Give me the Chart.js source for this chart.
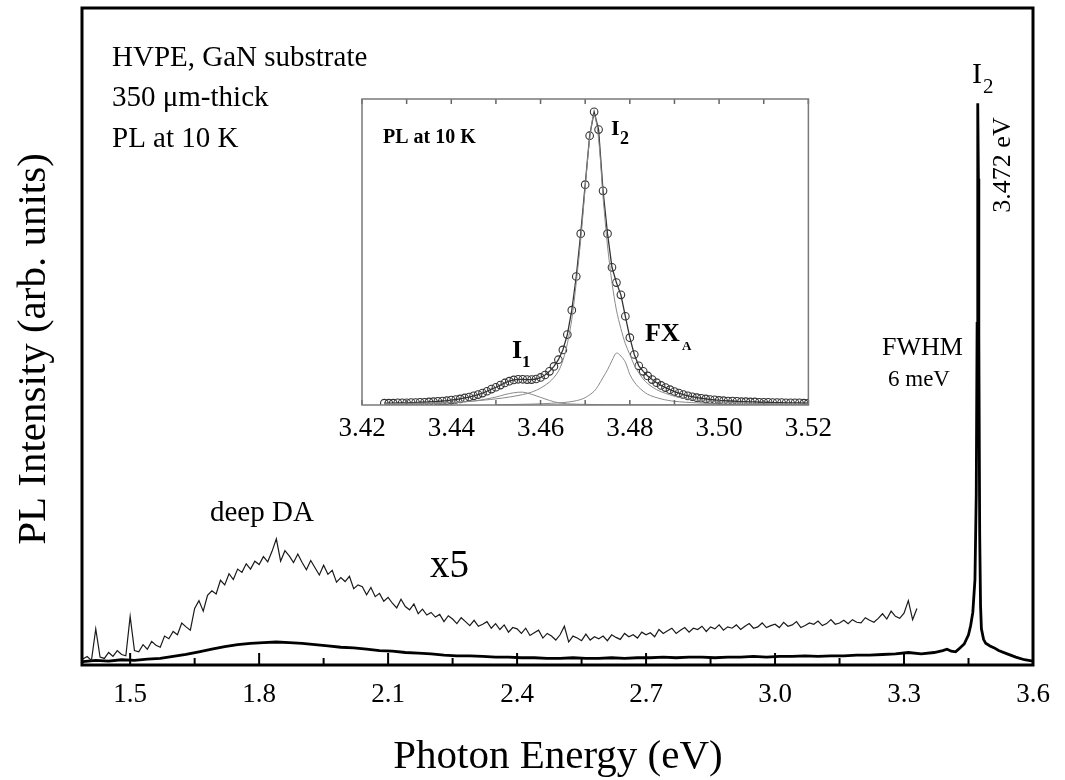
<!DOCTYPE html>
<html><head><meta charset="utf-8">
<script src="https://cdn.jsdelivr.net/npm/chart.js@4.4.1/dist/chart.umd.min.js"></script>
<style>
html,body{margin:0;padding:0;background:#fff;}
#wrap{position:relative;width:1065px;height:780px;background:#fff;}
#main{position:absolute;left:0;top:0;}
#inset{position:absolute;left:320px;top:90px;}
</style></head><body>
<div id="wrap">
<canvas id="main" width="1065" height="780"></canvas>
<canvas id="inset" width="520" height="360"></canvas>
</div>
<script>
// ---------- main spectrum (x1) ----------
const mainEnergy = [1.39,1.42,1.45,1.48,1.51,1.54,1.57,1.60,1.63,1.66,1.69,1.72,1.75,1.78,1.81,1.84,1.87,1.90,1.93,1.96,
  1.99,2.02,2.05,2.08,2.11,2.14,2.17,2.20,2.23,2.26,2.29,2.32,2.35,2.38,2.41,2.44,2.47,2.50,2.53,2.56,
  2.59,2.62,2.65,2.68,2.71,2.74,2.77,2.80,2.83,2.86,2.89,2.92,2.95,2.98,3.01,3.04,3.07,3.10,3.13,3.16,
  3.19,3.22,3.25,3.28,3.31,3.34,3.37,3.39,3.40,3.41,3.42,3.43,3.44,3.45,3.455,3.46,3.465,3.468,3.470,3.471,
  3.472,3.473,3.474,3.476,3.478,3.480,3.485,3.49,3.50,3.51,3.52,3.54,3.56,3.58,3.60];
const mainValues = [0.5,0.7,0.6,0.8,0.7,0.9,1.0,1.3,1.6,2.0,2.4,2.8,3.1,3.3,3.4,3.5,3.4,3.3,3.1,2.9,
  2.7,2.6,2.4,2.2,2.1,1.9,1.8,1.7,1.5,1.4,1.4,1.3,1.2,1.2,1.1,1.1,1.0,1.0,1.1,1.0,
  1.0,1.1,1.0,1.1,1.1,1.2,1.1,1.2,1.2,1.1,1.2,1.2,1.3,1.2,1.3,1.3,1.4,1.3,1.4,1.4,
  1.5,1.5,1.6,1.7,1.9,1.7,1.9,2.2,2.4,2.1,2.0,2.6,3.2,4.6,6.0,8.0,13,26,52,72,
  85.5,74,50,20,9,5.5,3.9,3.3,2.9,2.6,2.2,1.7,1.2,0.8,0.6];

// ---------- magnified spectrum (x5) ----------
const x5Energy = [1.39,
  1.40,1.41,1.42,1.43,1.44,1.45,1.46,1.47,1.48,1.49,
  1.50,1.51,1.52,1.53,1.54,1.55,1.56,1.57,1.58,1.59,
  1.60,1.61,1.62,1.63,1.64,1.65,1.66,1.67,1.68,1.69,
  1.70,1.71,1.72,1.73,1.74,1.75,1.76,1.77,1.78,1.79,
  1.80,1.81,1.82,1.83,1.84,1.85,1.86,1.87,1.88,1.89,
  1.90,1.91,1.92,1.93,1.94,1.95,1.96,1.97,1.98,1.99,
  2.00,2.01,2.02,2.03,2.04,2.05,2.06,2.07,2.08,2.09,
  2.10,2.11,2.12,2.13,2.14,2.15,2.16,2.17,2.18,2.19,
  2.20,2.21,2.22,2.23,2.24,2.25,2.26,2.27,2.28,2.29,
  2.30,2.31,2.32,2.33,2.34,2.35,2.36,2.37,2.38,2.39,
  2.40,2.41,2.42,2.43,2.44,2.45,2.46,2.47,2.48,2.49,
  2.50,2.51,2.52,2.53,2.54,2.55,2.56,2.57,2.58,2.59,
  2.60,2.61,2.62,2.63,2.64,2.65,2.66,2.67,2.68,2.69,
  2.70,2.71,2.72,2.73,2.74,2.75,2.76,2.77,2.78,2.79,
  2.80,2.81,2.82,2.83,2.84,2.85,2.86,2.87,2.88,2.89,
  2.90,2.91,2.92,2.93,2.94,2.95,2.96,2.97,2.98,2.99,
  3.00,3.01,3.02,3.03,3.04,3.05,3.06,3.07,3.08,3.09,
  3.10,3.11,3.12,3.13,3.14,3.15,3.16,3.17,3.18,3.19,
  3.20,3.21,3.22,3.23,3.24,3.25,3.26,3.27,3.28,3.29,
  3.30,3.31,3.32,3.33];
const x5Values = [0.9,
  1.3,0.7,5.5,1.2,1.0,1.9,1.3,2.2,1.6,1.4,
  7.4,2.2,2.0,3.1,2.4,3.6,3.0,2.7,4.4,4.0,
  5.1,4.6,6.4,5.8,5.3,8.6,9.8,8.2,10.6,11.3,
  10.8,12.9,12.2,13.9,13.0,14.6,14.1,15.4,14.6,15.8,
  15.3,16.5,15.7,17.3,19.2,15.8,17.4,16.6,15.6,16.9,
  15.6,14.5,15.9,14.8,13.7,15.2,13.8,14.4,12.6,13.3,
  12.7,13.5,11.6,12.2,11.9,10.7,11.8,10.4,10.9,9.7,
  10.3,9.4,8.7,10.0,8.9,8.4,9.3,7.8,8.5,7.6,
  8.0,7.3,7.7,6.6,7.5,7.0,6.3,7.2,6.6,6.0,
  6.8,5.9,6.2,6.6,5.6,6.3,5.4,6.1,5.0,5.7,
  5.5,4.8,5.6,4.5,4.9,5.3,4.1,4.8,4.4,3.8,
  4.6,5.9,3.5,4.4,4.1,3.7,4.7,3.8,4.3,4.0,
  4.4,3.7,4.6,4.2,3.9,4.8,4.3,4.6,4.1,5.0,
  4.6,4.9,4.3,5.4,4.8,5.2,5.6,4.8,5.3,5.7,
  5.0,5.6,5.4,5.9,5.1,5.8,5.5,6.1,5.3,5.8,
  5.6,6.1,5.4,5.9,6.3,5.6,5.8,6.4,5.7,6.0,
  6.2,5.7,6.5,5.9,6.1,6.6,5.7,6.0,6.4,6.2,
  6.7,6.0,6.3,6.9,6.2,6.4,6.8,6.3,6.9,6.5,
  6.4,7.2,6.8,6.5,7.1,7.8,7.0,8.2,7.4,7.1,
  7.9,9.8,6.9,8.6];

const xTickValues = [1.5,1.65,1.8,1.95,2.1,2.25,2.4,2.55,2.7,2.85,3.0,3.15,3.3,3.45,3.6];
const xTickLabels = ['1.5','','1.8','','2.1','','2.4','','2.7','','3.0','','3.3','','3.6'];

// ---------- inset: high-resolution PL near band edge ----------
const insetEnergy = [3.425,3.426,3.427,3.428,3.429,3.430,3.431,3.432,3.433,3.434,3.435,3.436,3.437,3.438,3.439,
  3.440,3.441,3.442,3.443,3.444,3.445,3.446,3.447,3.448,3.449,3.450,3.451,3.452,3.453,3.454,3.455,3.456,3.457,
  3.458,3.459,3.460,3.461,3.462,3.463,3.464,3.465,3.466,3.467,3.468,3.469,3.470,3.471,3.472,3.473,3.474,3.475,
  3.476,3.477,3.478,3.479,3.480,3.481,3.482,3.483,3.484,3.485,3.486,3.487,3.488,3.489,3.490,3.491,3.492,3.493,
  3.494,3.495,3.496,3.497,3.498,3.499,3.500,3.501,3.502,3.503,3.504,3.505,3.506,3.507,3.508,3.509,3.510,3.511,
  3.512,3.513,3.514,3.515,3.516,3.517,3.518,3.519,3.520];
const insetData = [0.006,0.006,0.006,0.007,0.007,0.007,0.008,0.008,0.009,0.009,0.010,0.011,0.012,0.013,0.014,
  0.016,0.018,0.020,0.023,0.026,0.030,0.034,0.039,0.045,0.052,0.058,0.065,0.072,0.078,0.082,0.084,0.084,0.083,
  0.083,0.085,0.090,0.098,0.110,0.126,0.148,0.180,0.230,0.310,0.420,0.560,0.720,0.880,0.958,0.900,0.700,0.560,
  0.450,0.400,0.360,0.290,0.220,0.165,0.128,0.110,0.095,0.083,0.073,0.064,0.057,0.050,0.044,0.039,0.034,0.030,
  0.027,0.024,0.022,0.020,0.018,0.017,0.015,0.014,0.013,0.013,0.012,0.011,0.011,0.010,0.010,0.009,0.009,0.009,
  0.008,0.008,0.008,0.007,0.007,0.007,0.007,0.006,0.006];

const i2Energy = [3.425,3.43,3.435,3.44,3.445,3.45,3.453,3.456,3.458,3.46,3.462,3.463,3.464,3.465,3.466,3.467,3.468,3.469,3.47,3.471,
  3.472,3.473,3.474,3.475,3.476,3.477,3.478,3.479,3.48,3.481,3.482,3.483,3.484,3.486,3.488,3.491,3.495,3.5,3.51,3.52];
const i2Values = [0.004,0.005,0.007,0.009,0.013,0.02,0.026,0.034,0.042,0.055,0.075,0.09,0.11,0.145,0.2,0.28,0.4,0.54,0.71,0.87,
  0.95,0.87,0.68,0.52,0.40,0.31,0.25,0.2,0.165,0.13,0.105,0.085,0.07,0.05,0.038,0.025,0.016,0.01,0.005,0.003];

const i1Energy = [3.425,3.435,3.44,3.445,3.448,3.45,3.452,3.454,3.456,3.458,3.46,3.462,3.464,3.466,3.47,3.48,3.52];
const i1Values = [0.002,0.004,0.007,0.013,0.02,0.026,0.034,0.04,0.042,0.035,0.025,0.015,0.007,0.004,0.002,0.001,0];

const fxEnergy = [3.45,3.455,3.46,3.465,3.468,3.47,3.472,3.473,3.474,3.475,3.476,3.477,3.478,3.479,3.48,3.481,3.482,3.484,3.487,3.49,3.495,3.5,3.51,3.52];
const fxValues = [0.001,0.002,0.004,0.008,0.014,0.024,0.045,0.065,0.09,0.115,0.145,0.17,0.16,0.14,0.1,0.075,0.058,0.035,0.02,0.012,0.007,0.004,0.002,0.001];

const insetTickValues = [3.42,3.43,3.44,3.45,3.46,3.47,3.48,3.49,3.50,3.51,3.52];
const insetTickLabels = ['3.42','','3.44','','3.46','','3.48','','3.50','','3.52'];

const pairs = (xs, ys) => xs.map((x, i) => ({x: x, y: ys[i]}));
const SERIF = '"Liberation Serif", "Times New Roman", serif';
const INSET_LEFT = 320, INSET_TOP = 90;

// ---------- plugins ----------
const innerTicks = {
  id: 'innerTicks',
  afterDatasetsDraw(chart, args, o) {
    const {ctx, chartArea: a, scales: {x}} = chart;
    ctx.save();
    ctx.strokeStyle = o.color; ctx.lineWidth = o.width;
    x.ticks.forEach((t, i) => {
      const px = x.getPixelForValue(t.value);
      const len = o.labels[i] ? o.major : o.minor;
      ctx.beginPath();
      ctx.moveTo(px, a.bottom); ctx.lineTo(px, a.bottom - len);
      if (o.top) { ctx.moveTo(px, a.top); ctx.lineTo(px, a.top + len); }
      ctx.stroke();
    });
    ctx.restore();
  }
};
const frame = {
  id: 'frame',
  afterDatasetsDraw(chart, args, o) {
    const {ctx, chartArea: a} = chart;
    ctx.save();
    ctx.strokeStyle = o.color; ctx.lineWidth = o.width;
    ctx.strokeRect(a.left, a.top, a.right - a.left, a.bottom - a.top);
    ctx.restore();
  }
};
function put(ctx, s, x, y, size, opt) {
  opt = opt || {};
  ctx.save();
  ctx.font = (opt.bold ? 'bold ' : '') + size + 'px ' + SERIF;
  ctx.fillStyle = opt.color || '#000';
  ctx.textAlign = opt.align || 'left';
  ctx.textBaseline = opt.baseline || 'alphabetic';
  ctx.translate(x, y);
  if (opt.rot) ctx.rotate(opt.rot);
  ctx.fillText(s, 0, 0);
  ctx.restore();
}
const mainText = {
  id: 'mainText',
  afterDraw(chart) {
    const ctx = chart.ctx;
    put(ctx, 'HVPE, GaN substrate', 112, 66, 29);
    put(ctx, '350 \u03bcm-thick', 112, 106, 29);
    put(ctx, 'PL at 10 K', 112, 147, 29);
    put(ctx, 'deep DA', 210, 521, 29);
    put(ctx, 'x5', 430, 577, 39);
    put(ctx, 'I', 972, 83, 30);
    put(ctx, '2', 983, 93, 21);
    put(ctx, '3.472 eV', 1003, 165, 26, {rot: -Math.PI / 2, align: 'center', baseline: 'middle'});
    put(ctx, 'FWHM', 882, 355, 26);
    put(ctx, '6 meV', 888, 386, 23);
    put(ctx, 'PL Intensity (arb. units)', 34, 349, 41, {rot: -Math.PI / 2, align: 'center', baseline: 'middle'});
    put(ctx, 'Photon Energy (eV)', 558, 768, 41, {align: 'center'});
  }
};
const insetText = {
  id: 'insetText',
  afterDraw(chart) {
    const ctx = chart.ctx;
    ctx.save();
    ctx.translate(-INSET_LEFT, -INSET_TOP);
    put(ctx, 'PL at 10 K', 383, 143, 20, {bold: true});
    put(ctx, 'I', 611, 135, 22, {bold: true});
    put(ctx, '2', 620, 144, 18, {bold: true});
    put(ctx, 'I', 512, 358, 26, {bold: true});
    put(ctx, '1', 522, 367, 17, {bold: true});
    put(ctx, 'FX', 645, 341, 26, {bold: true});
    put(ctx, 'A', 682, 350, 13, {bold: true});
    ctx.restore();
  }
};

// ---------- main chart ----------
new Chart(document.getElementById('main'), {
  type: 'line',
  data: {
    datasets: [
      {data: pairs(x5Energy, x5Values), borderColor: '#1a1a1a', borderWidth: 1.2, pointRadius: 0, tension: 0},
      {data: pairs(mainEnergy, mainValues), borderColor: '#000', borderWidth: 2.8, pointRadius: 0, tension: 0}
    ]
  },
  options: {
    responsive: false, animation: false, events: [],
    layout: {padding: {left: 82, right: 32, top: 8, bottom: 0}},
    plugins: {
      legend: {display: false}, tooltip: {enabled: false},
      innerTicks: {color: '#000', width: 2, major: 12, minor: 7, labels: xTickLabels, top: false},
      frame: {color: '#000', width: 3}
    },
    scales: {
      x: {
        type: 'linear', min: 1.388, max: 3.6,
        afterBuildTicks: s => { s.ticks = xTickValues.map(v => ({value: v})); },
        afterFit: s => { s.height = 115; },
        ticks: {callback: (v, i) => xTickLabels[i], autoSkip: false, maxRotation: 0, padding: 14,
                color: '#000', font: {family: SERIF, size: 27}},
        grid: {display: false, drawTicks: false},
        border: {display: false}
      },
      y: {display: false, min: 0, max: 100}
    }
  },
  plugins: [innerTicks, frame, mainText]
});

// ---------- inset chart ----------
new Chart(document.getElementById('inset'), {
  type: 'line',
  data: {
    datasets: [
      {data: pairs(i1Energy, i1Values), borderColor: '#8a8a8a', borderWidth: 1, pointRadius: 0, tension: 0.3},
      {data: pairs(fxEnergy, fxValues), borderColor: '#8a8a8a', borderWidth: 1, pointRadius: 0, tension: 0.3},
      {data: pairs(i2Energy, i2Values), borderColor: '#8a8a8a', borderWidth: 1, pointRadius: 0, tension: 0.3},
      {data: pairs(insetEnergy, insetData), borderColor: '#333', borderWidth: 1.3, tension: 0,
       pointRadius: 3.8, pointBorderColor: '#333', pointBackgroundColor: 'rgba(255,255,255,0)', pointBorderWidth: 1.1}
    ]
  },
  options: {
    responsive: false, animation: false, events: [],
    layout: {padding: {left: 42, right: 30, top: 9, bottom: 0}},
    plugins: {
      legend: {display: false}, tooltip: {enabled: false},
      innerTicks: {color: '#666', width: 1.5, major: 5, minor: 5, labels: insetTickLabels, top: true},
      frame: {color: '#7a7a7a', width: 1.5}
    },
    scales: {
      x: {
        type: 'linear', min: 3.42, max: 3.52,
        afterBuildTicks: s => { s.ticks = insetTickValues.map(v => ({value: v})); },
        afterFit: s => { s.height = 45; },
        ticks: {callback: (v, i) => insetTickLabels[i], autoSkip: false, maxRotation: 0, padding: 8,
                color: '#000', font: {family: SERIF, size: 27}},
        grid: {display: false, drawTicks: false},
        border: {display: false}
      },
      y: {display: false, min: 0, max: 1}
    }
  },
  plugins: [innerTicks, frame, insetText]
});
</script>
</body></html>
